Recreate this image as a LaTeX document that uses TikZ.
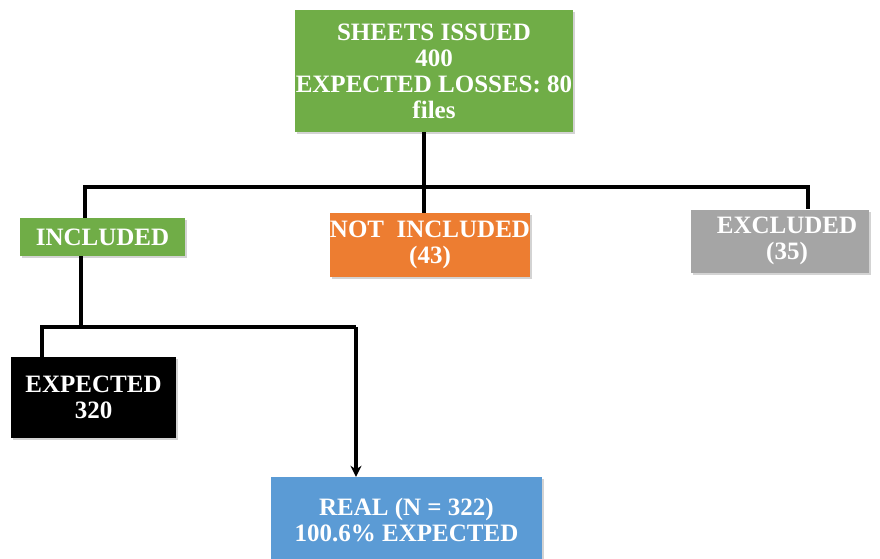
\documentclass[tikz,border=0pt]{standalone}
\usepackage{fontspec}
\setmainfont{Liberation Serif}
\usetikzlibrary{shadows,arrows.meta}
\definecolor{boxgreen}{HTML}{70AD47}
\definecolor{boxorange}{HTML}{ED7D31}
\definecolor{boxgray}{HTML}{A5A5A5}
\definecolor{boxblue}{HTML}{5B9BD5}
\begin{document}
\begin{tikzpicture}[x=1pt,y=-1pt,
        box/.style={inner sep=0pt, align=center, text=white, font=\bfseries\fontsize{25}{26}\selectfont,
            drop shadow={opacity=0.35, shadow xshift=2pt, shadow yshift=-2pt}},
        link/.style={line width=3.5pt, black}]
                \useasboundingbox (0,0) rectangle (880,558);
                \clip (0,0) rectangle (880,558);
                \node[box, fill=boxgreen, minimum width=278pt, minimum height=122pt] (sheets) at (434,71) {SHEETS ISSUED\\400\\EXPECTED LOSSES: 80\\files};
                \node[box, fill=boxgreen, minimum width=165pt, minimum height=38pt] (inc) at (102.5,237) {INCLUDED};
                \node[box, fill=boxorange, minimum width=190pt, minimum height=64pt] (notinc) at (430,245) {NOT\ \ INCLUDED\\(43)};
                \node[box, fill=boxgray, minimum width=178pt, minimum height=63pt] (exc) at (780,241) {\hspace{14pt}EXCLUDED\\\hspace{14pt}(35)};
                \node[box, fill=black, minimum width=165pt, minimum height=81pt] (exp) at (93.5,397.5) {EXPECTED\\320};
                \node[box, fill=boxblue, minimum width=271pt, minimum height=86pt] (real) at (406.5,520) {REAL (N = 322)\\100.6\% EXPECTED};

                \coordinate (busL) at (85,187); \coordinate (busM) at (424,187); \coordinate (busR) at (808,187);
                \coordinate (subL) at (42,327); \coordinate (subM) at (81,327); \coordinate (subR) at (356,327);

                \draw[link] (sheets.south -| busM) -- (busM); \draw[link] (inc.north -| busL) -- (busL) -- (busR) -- (exc.north -| busR); \draw[link] (busM) -- (notinc.north -| busM);
                \draw[link] (inc.south -| subM) -- (subM); \draw[link] (exp.north -| subL) -- (subL) -- (subR); \draw[link,-{Stealth[length=11pt,width=11pt]}] (subR) -- (real.north -| subR);
            \end{tikzpicture}
\end{document}
